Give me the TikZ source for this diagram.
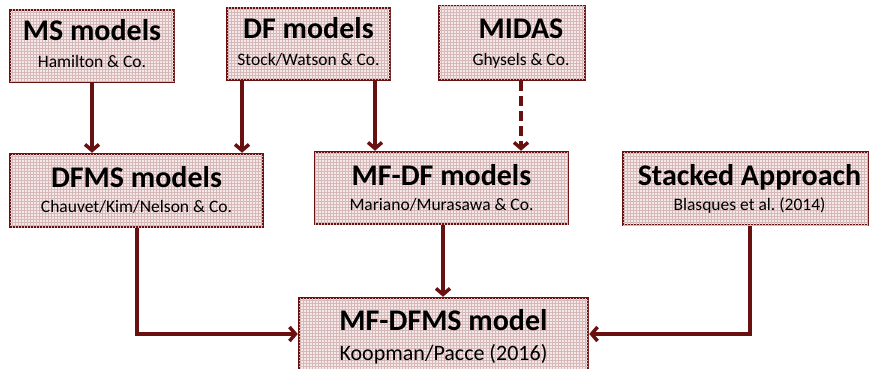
\documentclass[tikz,border=0pt]{standalone}
\usepackage{fontspec}
\setmainfont{Carlito}
\usetikzlibrary{arrows.meta,patterns}
\frenchspacing
\definecolor{maroon}{RGB}{105,16,16}
\definecolor{boxbg}{RGB}{244,232,232}
\definecolor{gridc}{RGB}{214,184,184}
\tikzset{
  box/.style={draw=maroon, line width=2.5pt, rectangle, inner sep=0pt, fill=boxbg,
    postaction={pattern=grid, pattern color=gridc}},
  ttl/.style={anchor=base, inner sep=0pt, font=\bfseries\fontsize{30}{30}\selectfont},
  sub/.style={anchor=base, inner sep=0pt, font=\fontsize{17.5}{18}\selectfont},
  arr/.style={draw=maroon, line width=3.5pt, -{Straight Barb[length=6pt,width=14pt]}}
}
\begin{document}
\begin{tikzpicture}[x=1pt,y=-1pt]
\useasboundingbox (0,0) rectangle (871,369);
% boxes
\node[box, minimum width=164pt, minimum height=72pt] (ms) at (92,46) {};
\node[box, minimum width=163pt, minimum height=72pt] (df) at (308.5,44) {};
\node[box, minimum width=146pt, minimum height=74pt] (midas) at (512,43) {};
\node[box, minimum width=253pt, minimum height=73pt] (dfms) at (136.5,190.5) {};
\node[box, minimum width=253pt, minimum height=72pt] (mfdf) at (441.5,188) {};
\node[box, minimum width=245pt, minimum height=73pt] (stk) at (745.5,188.5) {};
\node[box, minimum width=289pt, minimum height=90pt] (fin) at (443.5,343) {};
% texts
\node[ttl] (t1) at (92,41) {MS models};
\node[sub] (s1) at (92,68) {Hamilton \& Co.};
\node[ttl] (t2) at (308.5,39) {DF models};
\node[sub] (s2) at (308.5,66) {Stock/Watson \& Co.};
\node[ttl] (t3) at (521,39) {MIDAS};
\node[sub] (s3) at (521,66) {Ghysels \& Co.};
\node[ttl] (t4) at (136.5,187) {DFMS models};
\node[sub] (s4) at (136.5,212) {Chauvet/Kim/Nelson \& Co.};
\node[ttl] (t5) at (441.5,185) {MF-DF models};
\node[sub] (s5) at (441.5,210) {Mariano/Murasawa \& Co.};
\node[ttl] (t6) at (749.5,185) {Stacked Approach};
\node[sub] (s6) at (749.5,210) {Blasques et al.\ (2014)};
\node[ttl] (t7) at (443.5,330) {MF-DFMS model};
\node[anchor=base, inner sep=0pt, font=\fontsize{22}{22}\selectfont] (s7) at (443.5,360) {Koopman/Pacce (2016)};
% connectors
\draw[arr] (ms.south) -- (ms.south |- dfms.north);
\draw[arr] (df.south -| 242,0) -- (dfms.north -| 242,0);
\draw[arr] (df.south -| 375,0) -- (mfdf.north -| 375,0);
\draw[arr, dash pattern=on 10pt off 5pt] (midas.south -| 521,0) -- (mfdf.north -| 521,0);
\draw[arr] (mfdf.south -| 443,0) -- (fin.north -| 443,0);
\draw[arr] (dfms.south -| 137,0) |- (fin.west |- 0,334);
\draw[arr] (stk.south -| 750,0) |- (fin.east |- 0,334);
\end{tikzpicture}
\end{document}
